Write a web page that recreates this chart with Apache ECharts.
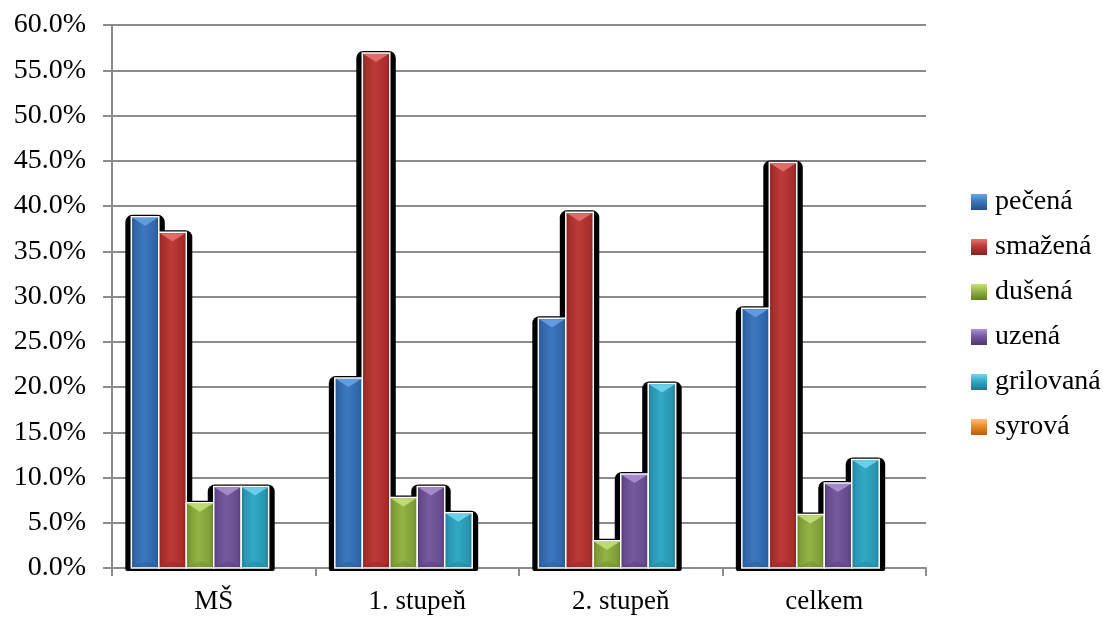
<!DOCTYPE html>
<html>
<head>
<meta charset="utf-8">
<script src="https://cdn.jsdelivr.net/npm/echarts@6/dist/echarts.min.js"></script>
<style>
  html, body { margin: 0; padding: 0; background: #fff; }
  #chart { width: 1103px; height: 617px; }
</style>
</head>
<body>
<div id="chart"></div>
<script>
// Categories (school level) and tick values
const categories = ['MŠ', '1. stupeň', '2. stupeň', 'celkem'];
const yTicks = [0, 5, 10, 15, 20, 25, 30, 35, 40, 45, 50, 55, 60];

// Share of answers per preparation method, in percent
const pecena     = [38.8, 21.0, 27.6, 28.7];
const smazena    = [37.1, 56.9, 39.3, 44.8];
const dusena     = [7.2, 7.8, 3.0, 5.9];
const uzena      = [9.0, 9.0, 10.4, 9.4];
const grilovana  = [9.0, 6.1, 20.4, 12.0];
const syrova     = [0, 0, 0, 0];

const seriesNames = ['pečená', 'smažená', 'dušená', 'uzená', 'grilovaná', 'syrová'];
const seriesValues = [pecena, smazena, dusena, uzena, grilovana, syrova];

// dark edge, mid, light centre, bevel highlight
const palette = [
  { dark: '#24508a', mid: '#3066a8', light: '#3c78bf', hi: '#6aa3e6' },
  { dark: '#842120', mid: '#a72d2b', light: '#bd3b38', hi: '#e67673' },
  { dark: '#637f25', mid: '#7f9d35', light: '#93b445', hi: '#c5e37a' },
  { dark: '#4c3571', mid: '#664b8c', light: '#775a9f', hi: '#ad92d6' },
  { dark: '#1c768e', mid: '#2895b0', light: '#33a9c6', hi: '#74d6f0' },
  { dark: '#b45e12', mid: '#d8761c', light: '#f08a2a', hi: '#ffbf7a' }
];

const N = seriesNames.length;
const CAT_GAP = 0.19;
const FONT = '"Liberation Serif", "Times New Roman", serif';

function slot(api, cat, sIdx) {
  const band = api.size([1, 0])[0];
  const groupW = band * (1 - CAT_GAP);
  const w = groupW / N;
  const c = api.coord([cat, 0]);
  return { x: c[0] - groupW / 2 + sIdx * w, w: w, base: c[1] };
}

function hGrad(p) {
  return {
    type: 'linear', x: 0, y: 0, x2: 1, y2: 0,
    colorStops: [
      { offset: 0, color: p.dark },
      { offset: 0.15, color: p.mid },
      { offset: 0.45, color: p.light },
      { offset: 0.85, color: p.mid },
      { offset: 1, color: p.dark }
    ]
  };
}

// Black backdrop behind every bar
const shadowData = [];
seriesValues.forEach((arr, s) => arr.forEach((v, c) => shadowData.push([c, v, s])));

const shadowSeries = {
  type: 'custom',
  name: '_shadow',
  z: 1,
  silent: true,
  data: shadowData,
  encode: { x: 0, y: 1 },
  renderItem: function (params, api) {
    const cat = api.value(0), v = api.value(1), s = api.value(2);
    if (!v) return null;
    const sl = slot(api, cat, s);
    const top = api.coord([cat, v])[1];
    return {
      type: 'rect',
      shape: { x: sl.x - 6, y: top - 2, width: sl.w + 12, height: sl.base - top + 5, r: [7, 7, 2, 2] },
      style: { fill: '#000' }
    };
  }
};

const barSeries = seriesNames.map((name, s) => ({
  type: 'custom',
  name: name,
  z: 2,
  itemStyle: { color: palette[s].mid },
  data: seriesValues[s].map((v, c) => [c, v]),
  encode: { x: 0, y: 1 },
  renderItem: function (params, api) {
    const cat = api.value(0), v = api.value(1);
    if (!v) return null;
    const sl = slot(api, cat, s);
    const top = api.coord([cat, v])[1];
    const h = sl.base - top;
    const p = palette[s];
    const bev = Math.min(9, h / 2);
    return {
      type: 'group',
      children: [
        {
          type: 'rect',
          shape: { x: sl.x, y: top, width: sl.w, height: h },
          style: { fill: hGrad(p), stroke: '#fff', lineWidth: 1.5 }
        },
        {
          type: 'polygon',
          shape: { points: [[sl.x + 1, top + 1], [sl.x + sl.w - 1, top + 1], [sl.x + sl.w / 2, top + bev]] },
          style: { fill: p.hi, opacity: 0.85 }
        },
        {
          type: 'polygon',
          shape: { points: [[sl.x + 1, sl.base - 1], [sl.x + sl.w - 1, sl.base - 1], [sl.x + sl.w / 2, sl.base - Math.min(7, h / 3)]] },
          style: { fill: p.dark, opacity: 0.35 }
        }
      ]
    };
  }
}));

const chart = echarts.init(document.getElementById('chart'), null, { renderer: 'canvas' });

chart.setOption({
  animation: false,
  backgroundColor: '#fff',
  textStyle: { fontFamily: FONT },
  grid: { left: 112, right: 177, top: 25, bottom: 49, containLabel: false },
  legend: {
    orient: 'vertical',
    left: 966,
    top: 183,
    itemWidth: 16,
    itemHeight: 16,
    itemGap: 17,
    icon: 'rect',
    selectedMode: false,
    data: seriesNames.map((n, i) => ({
      name: n,
      itemStyle: {
        color: {
          type: 'linear', x: 0, y: 0, x2: 0, y2: 1,
          colorStops: [
            { offset: 0, color: palette[i].hi },
            { offset: 0.45, color: palette[i].light },
            { offset: 1, color: palette[i].dark }
          ]
        }
      }
    })),
    textStyle: { fontFamily: FONT, fontSize: 28, color: '#000', lineHeight: 28, padding: [0, 0, 0, 3] }
  },
  xAxis: {
    type: 'category',
    data: categories,
    boundaryGap: true,
    axisLine: { show: true, lineStyle: { color: '#8c8c8c', width: 2 } },
    axisTick: { show: true, alignWithLabel: false, length: 8, lineStyle: { color: '#8c8c8c', width: 2 } },
    axisLabel: { fontFamily: FONT, fontSize: 27, color: '#000', margin: 20 },
    splitLine: { show: false }
  },
  yAxis: {
    type: 'value',
    min: yTicks[0],
    max: yTicks[yTicks.length - 1],
    interval: 5,
    axisLine: { show: true, lineStyle: { color: '#8c8c8c', width: 2 } },
    axisTick: { show: true, length: 9, lineStyle: { color: '#8c8c8c', width: 2 } },
    axisLabel: {
      fontFamily: FONT, fontSize: 28, color: '#000', margin: 26,
      formatter: v => v.toFixed(1) + '%'
    },
    splitLine: { show: true, lineStyle: { color: '#8c8c8c', width: 2 } }
  },
  series: [shadowSeries].concat(barSeries)
});
</script>
</body>
</html>
